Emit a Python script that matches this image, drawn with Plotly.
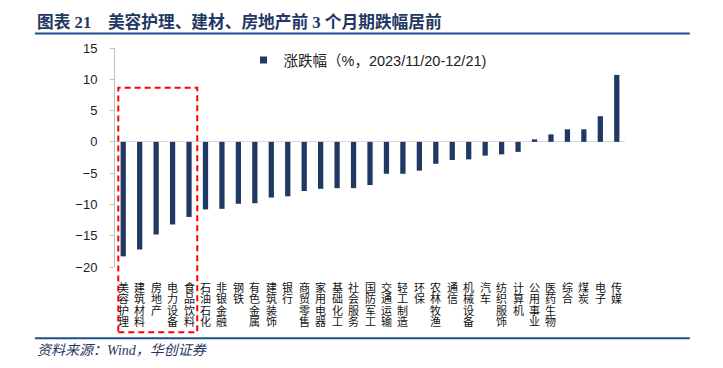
import plotly.graph_objects as go

categories = ["美容护理", "建筑材料", "房地产", "电力设备", "食品饮料", "石油石化", "非银金融", "钢铁",
              "有色金属", "建筑装饰", "银行", "商贸零售", "家用电器", "基础化工", "社会服务", "国防军工",
              "交通运输", "轻工制造", "环保", "农林牧渔", "通信", "机械设备", "汽车", "纺织服饰",
              "计算机", "公用事业", "医药生物", "综合", "煤炭", "电子", "传媒"]
values = [-18.3, -17.2, -14.8, -13.2, -12.0, -10.8, -10.7, -9.9, -9.8, -8.9, -8.7, -7.85, -7.5, -7.4,
          -7.4, -6.9, -5.1, -5.1, -4.6, -3.5, -2.9, -2.8, -2.2, -2.0, -1.6, 0.4, 1.2, 2.0, 2.0, 4.1, 10.7]
series_name = "涨跌幅（%，2023/11/20-12/21)"
y_ticks = [15, 10, 5, 0, -5, -10, -15, -20]
title_text = "图表 21    美容护理、建材、房地产前 3 个月期跌幅居前"
source_text = "资料来源：Wind，华创证券"
highlight = categories[:5]

NAVY = "#1F3864"
LINE = "#1F4E8C"

fig = go.Figure()
fig.add_trace(go.Bar(x=categories, y=values, marker=dict(color=NAVY, line=dict(width=0)),
                     showlegend=False, width=0.32))
fig.add_trace(go.Scatter(x=[None], y=[None], mode="markers", name=series_name,
                         marker=dict(symbol="square", size=7, color=NAVY)))

# vertical category labels, one character per row
ann = []
for cat in categories:
    for j, ch in enumerate(cat):
        ann.append(dict(x=cat, y=0, xref="x", yref="paper", text=ch, showarrow=False,
                        yanchor="top", xanchor="center", yshift=-9.5 - 11.5 * j,
                        font=dict(family="Noto Sans CJK SC", size=11, color="#111111")))

ann.append(dict(x=-0.157, y=1.12, xref="paper", yref="paper", text="<b>" + title_text + "</b>",
                showarrow=False, xanchor="left", yanchor="middle",
                font=dict(family="Liberation Serif, Noto Sans CJK SC", size=16.7, color="#1F3864")))
ann.append(dict(x=-0.157, y=-0.383, xref="paper", yref="paper", text="<i>" + source_text + "</i>",
                showarrow=False, xanchor="left", yanchor="middle",
                font=dict(family="Liberation Serif, Noto Sans CJK SC", size=14, color="#1F3864")))

shapes = [
    dict(type="line", xref="paper", yref="paper", x0=-0.157, x1=1.127, y0=1.066, y1=1.066,
         line=dict(color=LINE, width=2)),
    dict(type="line", xref="paper", yref="paper", x0=-0.157, x1=1.127, y0=-0.325, y1=-0.325,
         line=dict(color=LINE, width=2)),
    dict(type="rect", xref="x", yref="paper", x0=-0.3, x1=len(highlight) - 0.5, y0=-0.298, y1=0.818,
         line=dict(color="#FF0000", width=2, dash="6px,4px"), fillcolor="rgba(0,0,0,0)", layer="above"),
]

# the page body adds an 8px margin, so the figure is 8px smaller on each axis
fig.update_layout(
    width=715, height=360,
    margin=dict(l=107, r=98, t=40, b=101),
    paper_bgcolor="white", plot_bgcolor="white",
    bargap=0.68,
    annotations=ann, shapes=shapes,
    legend=dict(x=0.252, y=0.945, xanchor="left", yanchor="middle", bgcolor="rgba(0,0,0,0)",
                font=dict(family="Liberation Sans, Noto Sans CJK SC", size=14.5, color="#222222"),
                itemwidth=30, tracegroupgap=0),
    showlegend=True,
)
fig.update_xaxes(showticklabels=False, ticks="", showline=False, showgrid=False, zeroline=False,
                 range=[-0.5, len(categories) - 0.5])
fig.update_yaxes(range=[-20, 15], tickvals=y_ticks, ticks="outside", ticklen=4, tickcolor="#BFBFBF",
                 showline=True, linecolor="#BFBFBF", linewidth=1, showgrid=False,
                 zeroline=True, zerolinecolor="#D9D9D9", zerolinewidth=1,
                 ticklabelstandoff=10,
                 tickfont=dict(family="Liberation Sans", size=13, color="#222222"))

fig.write_html("out.html")
